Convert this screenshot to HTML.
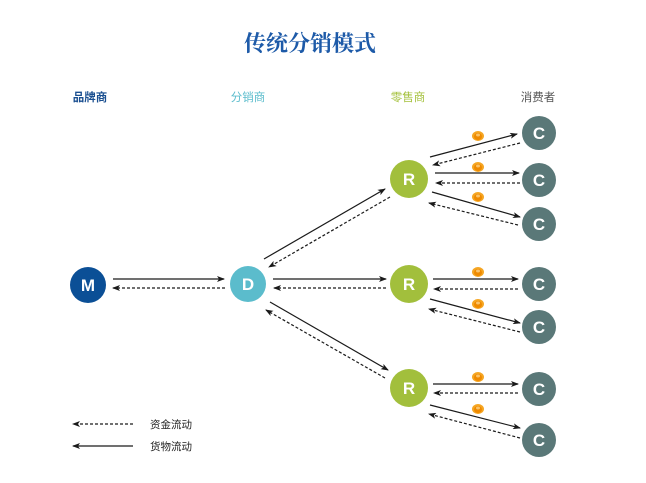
<!DOCTYPE html>
<html><head><meta charset="utf-8"><style>
html,body{margin:0;padding:0;background:#fff;}
svg{display:block;}
</style></head><body>
<svg width="646" height="483" viewBox="0 0 646 483" xmlns="http://www.w3.org/2000/svg">
<defs>
<marker id="a" markerWidth="8" markerHeight="6" refX="7" refY="3" orient="auto" markerUnits="userSpaceOnUse">
<path d="M0,0 L8,3 L0,6 L2,3 Z" fill="#1a1a1a"/>
</marker>
<g id="coin">
<ellipse cx="0" cy="0" rx="6" ry="5" fill="#f5a623"/>
<ellipse cx="0" cy="0.5" rx="4" ry="3.5" fill="#ef8a00"/>
<ellipse cx="0" cy="-1" rx="2" ry="1.5" fill="#f9c36a"/>
</g>
</defs>
<text x="310" y="51" text-anchor="middle" font-family="'Liberation Serif','Noto Serif CJK SC',serif" font-weight="bold" font-size="22" fill="#1d5aa8">传统分销模式</text>
<g font-family="'Liberation Sans','Noto Sans CJK SC',sans-serif" font-size="11.5" text-anchor="middle">
<text x="90" y="101" fill="#1a4f90" font-weight="bold">品牌商</text>
<text x="248" y="101" fill="#5bbccc">分销商</text>
<text x="408" y="101" fill="#a5c13d">零售商</text>
<text x="538" y="101" fill="#555">消费者</text>
</g>
<g stroke="#1a1a1a" stroke-width="1.2" fill="none">
<!-- M-D -->
<line x1="113" y1="279" x2="224" y2="279" marker-end="url(#a)"/>
<line x1="225" y1="288" x2="113" y2="288" stroke-dasharray="3,2" marker-end="url(#a)"/>
<!-- D-R1 -->
<line x1="264" y1="259" x2="385" y2="189" marker-end="url(#a)"/>
<line x1="390" y1="197" x2="269" y2="267" stroke-dasharray="3,2" marker-end="url(#a)"/>
<!-- D-R2 -->
<line x1="273" y1="279" x2="386" y2="279" marker-end="url(#a)"/>
<line x1="386" y1="288" x2="274" y2="288" stroke-dasharray="3,2" marker-end="url(#a)"/>
<!-- D-R3 -->
<line x1="270" y1="302" x2="388" y2="370" marker-end="url(#a)"/>
<line x1="385" y1="378" x2="266" y2="310" stroke-dasharray="3,2" marker-end="url(#a)"/>
<!-- R1 -->
<line x1="430" y1="157" x2="517" y2="134" marker-end="url(#a)"/>
<line x1="520" y1="143" x2="433" y2="165" stroke-dasharray="3,2" marker-end="url(#a)"/>
<line x1="435" y1="173" x2="519" y2="173" marker-end="url(#a)"/>
<line x1="520" y1="183" x2="436" y2="183" stroke-dasharray="3,2" marker-end="url(#a)"/>
<line x1="432" y1="192" x2="520" y2="217" marker-end="url(#a)"/>
<line x1="518" y1="225" x2="429" y2="203" stroke-dasharray="3,2" marker-end="url(#a)"/>
<!-- R2 -->
<line x1="433" y1="279" x2="518" y2="279" marker-end="url(#a)"/>
<line x1="518" y1="289" x2="434" y2="289" stroke-dasharray="3,2" marker-end="url(#a)"/>
<line x1="430" y1="299" x2="520" y2="323" marker-end="url(#a)"/>
<line x1="520" y1="332" x2="429" y2="309" stroke-dasharray="3,2" marker-end="url(#a)"/>
<!-- R3 -->
<line x1="433" y1="384" x2="518" y2="384" marker-end="url(#a)"/>
<line x1="518" y1="393" x2="434" y2="393" stroke-dasharray="3,2" marker-end="url(#a)"/>
<line x1="430" y1="405" x2="520" y2="428" marker-end="url(#a)"/>
<line x1="520" y1="438" x2="429" y2="414" stroke-dasharray="3,2" marker-end="url(#a)"/>
<!-- legend -->
<line x1="133" y1="424" x2="73" y2="424" stroke-dasharray="3,2" marker-end="url(#a)"/>
<line x1="133" y1="446" x2="73" y2="446" marker-end="url(#a)"/>
</g>
<use href="#coin" x="478" y="136"/>
<use href="#coin" x="478" y="167"/>
<use href="#coin" x="478" y="197"/>
<use href="#coin" x="478" y="272"/>
<use href="#coin" x="478" y="304"/>
<use href="#coin" x="478" y="377"/>
<use href="#coin" x="478" y="409"/>
<g font-family="'Liberation Sans',sans-serif" font-weight="bold" font-size="17" fill="#fff" text-anchor="middle">
<circle cx="88" cy="285" r="18" fill="#0b4f96"/><text x="88" y="291">M</text>
<circle cx="248" cy="284" r="18" fill="#5bbccc"/><text x="248" y="290">D</text>
<circle cx="409" cy="179" r="19" fill="#a2bf3c"/><text x="409" y="185">R</text>
<circle cx="409" cy="284" r="19" fill="#a2bf3c"/><text x="409" y="290">R</text>
<circle cx="409" cy="388" r="19" fill="#a2bf3c"/><text x="409" y="394">R</text>
<circle cx="539" cy="133" r="17" fill="#5a7878"/><text x="539" y="139">C</text>
<circle cx="539" cy="180" r="17" fill="#5a7878"/><text x="539" y="186">C</text>
<circle cx="539" cy="224" r="17" fill="#5a7878"/><text x="539" y="230">C</text>
<circle cx="539" cy="284" r="17" fill="#5a7878"/><text x="539" y="290">C</text>
<circle cx="539" cy="327" r="17" fill="#5a7878"/><text x="539" y="333">C</text>
<circle cx="539" cy="389" r="17" fill="#5a7878"/><text x="539" y="395">C</text>
<circle cx="539" cy="440" r="17" fill="#5a7878"/><text x="539" y="446">C</text>
</g>
<g font-family="'Liberation Sans','Noto Sans CJK SC',sans-serif" font-size="10.5" fill="#222">
<text x="150" y="428">资金流动</text>
<text x="150" y="450">货物流动</text>
</g>
</svg>
</body></html>
